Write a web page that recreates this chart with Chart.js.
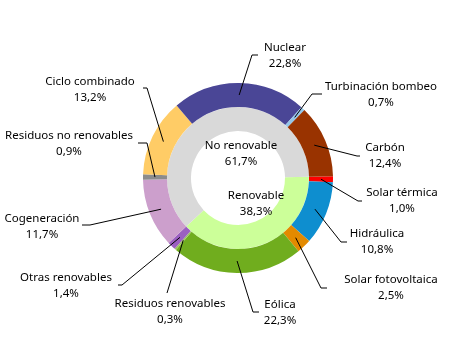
<!DOCTYPE html>
<html>
<head>
<meta charset="utf-8">
<script src="https://cdn.jsdelivr.net/npm/chart.js@4/dist/chart.umd.min.js"></script>
<style>
  html, body { margin: 0; padding: 0; background: #fff; }
  #wrap { width: 466px; height: 352px; position: relative; }
</style>
</head>
<body>
<div id="wrap"><canvas id="c"></canvas></div>
<script>
// ---- Data ----
const sources = ['Solar térmica', 'Hidráulica', 'Solar fotovoltaica', 'Eólica', 'Residuos renovables',
  'Otras renovables', 'Cogeneración', 'Residuos no renovables', 'Ciclo combinado', 'Nuclear',
  'Turbinación bombeo', 'Carbón'];
const shares = [1.0, 10.8, 2.5, 22.3, 0.3, 1.4, 11.7, 0.9, 13.2, 22.8, 0.7, 12.4];
const groups = ['Renovable', 'No renovable'];
const groupShares = [38.3, 61.7];

// ---- Styles ----
const sourceColors = ['#ff0000', '#0e8ecf', '#e38a00', '#70ad1e', '#9cc45e', '#9b5fc0',
  '#cc9fcc', '#8c8c8c', '#ffcc66', '#4a4696', '#95c6e8', '#993300'];
const groupColors = ['#ccff99', '#d9d9d9'];
const FONT = '11.5px "Noto Sans"';

// label layout (text centre, leader end point, horizontal stub length, side)
const outerLayout = [
  {tx: 402, ty: 193, ex: 362, ey: 201, h: 4, dir: 1},
  {tx: 377, ty: 234, ex: 347, ey: 242, h: 6, dir: 1},
  {tx: 391, ty: 280, ex: 327, ey: 288, h: 6, dir: 1},
  {tx: 280, ty: 305, ex: 259, ey: 312, h: 6, dir: 1},
  {tx: 170, ty: 304, ex: 167, ey: 293, h: 0, dir: 0},
  {tx: 66,  ty: 278, ex: 118, ey: 285, h: 4, dir: -1},
  {tx: 42,  ty: 219, ex: 82,  ey: 225, h: 8, dir: -1},
  {tx: 69,  ty: 136, ex: 138, ey: 143, h: 9, dir: -1},
  {tx: 90,  ty: 82,  ex: 143, ey: 88,  h: 4, dir: -1},
  {tx: 285, ty: 48,  ex: 258, ey: 55,  h: 6, dir: 1},
  {tx: 381, ty: 87,  ex: 322, ey: 94,  h: 10, dir: 1},
  {tx: 385, ty: 148, ex: 360, ey: 156, h: 3, dir: 1}
];
const innerLayout = [
  {tx: 256, ty: 196},
  {tx: 241, ty: 146}
];

const fmt = v => v.toFixed(1).replace('.', ',') + '%';

const leaderLabels = {
  id: 'leaderLabels',
  afterDatasetsDraw(chart) {
    const ctx = chart.ctx;
    ctx.save();
    ctx.font = FONT;
    ctx.fillStyle = '#000';
    ctx.textAlign = 'center';
    ctx.textBaseline = 'middle';
    ctx.strokeStyle = '#000';
    ctx.lineWidth = 1;
    const meta = chart.getDatasetMeta(0);
    meta.data.forEach((arc, i) => {
      const L = outerLayout[i];
      const p = arc.tooltipPosition(true);
      ctx.beginPath();
      ctx.moveTo(p.x, p.y);
      ctx.lineTo(L.ex - L.dir * L.h, L.ey);
      ctx.lineTo(L.ex, L.ey);
      ctx.stroke();
      ctx.fillText(sources[i], L.tx, L.ty);
      ctx.fillText(fmt(shares[i]), L.tx, L.ty + 16);
    });
    innerLayout.forEach((L, i) => {
      ctx.fillText(groups[i], L.tx, L.ty);
      ctx.fillText(fmt(groupShares[i]), L.tx, L.ty + 16);
    });
    ctx.restore();
  }
};

new Chart(document.getElementById('c'), {
  type: 'doughnut',
  data: {
    labels: sources,
    datasets: [
      { data: shares, backgroundColor: sourceColors, borderWidth: 0 },
      { data: groupShares, backgroundColor: groupColors, borderWidth: 0 }
    ]
  },
  options: {
    responsive: true,
    maintainAspectRatio: false,
    animation: false,
    rotation: 89,
    cutout: '49.5%',
    layout: { padding: { left: 143, right: 133, top: 83, bottom: 79 } },
    plugins: { legend: { display: false }, tooltip: { enabled: false } },
    events: []
  },
  plugins: [leaderLabels]
});
</script>
</body>
</html>
